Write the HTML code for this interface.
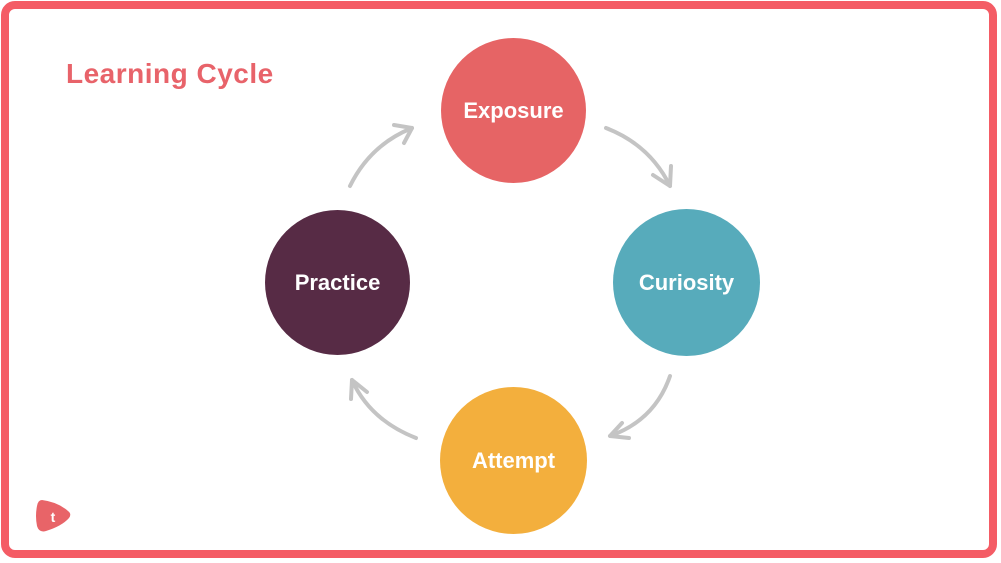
<!DOCTYPE html>
<html><head><style>
html,body{margin:0;padding:0;background:#fff;}
body{width:1001px;height:563px;position:relative;overflow:hidden;font-family:"Liberation Sans",sans-serif;}
.frame{position:absolute;left:1px;top:1px;width:980px;height:541px;border:8px solid #f45c65;border-radius:14px;}
.title{position:absolute;left:66px;top:58px;font-size:28px;font-weight:bold;color:#e8636a;letter-spacing:0.5px;}
.c{position:absolute;border-radius:50%;color:#fff;font-weight:bold;font-size:22px;display:flex;align-items:center;justify-content:center;}
</style></head><body>
<div class="frame"></div>
<div class="title">Learning Cycle</div>
<div class="c" style="left:441px;top:38px;width:145px;height:145px;background:#e66465;">Exposure</div>
<div class="c" style="left:613px;top:209px;width:147px;height:147px;background:#57abbb;">Curiosity</div>
<div class="c" style="left:440px;top:387px;width:147px;height:147px;background:#f3af3d;">Attempt</div>
<div class="c" style="left:265px;top:210px;width:145px;height:145px;background:#572b45;">Practice</div>
<svg width="1001" height="563" style="position:absolute;left:0;top:0" fill="none" stroke="#c4c4c4" stroke-width="4" stroke-linecap="round" stroke-linejoin="round">
<path d="M350 186 Q370 145 412 128"/><path d="M394 125 L412 128 L404 143"/>
<path d="M606 128 Q650 145 670 186"/><path d="M653 175 L670 186 L671 166"/>
<path d="M670 376 Q655 420 610 436"/><path d="M622 423 L610 436 L629 438"/>
<path d="M416 438 Q370 420 352 380"/><path d="M351 399 L352 380 L367 392"/>
</svg>
<svg width="40" height="40" style="position:absolute;left:34px;top:496px">
<path d="M8 4 Q4 4 3 10 Q1 20 3 30 Q5 37 12 35 Q28 30 35 22 Q38 18 34 15 Q24 6 8 4Z" fill="#e86468"/>
<text x="19" y="26" fill="#fff" font-size="14" font-weight="bold" text-anchor="middle" font-family="Liberation Sans,sans-serif">t</text>
</svg>
</body></html>
